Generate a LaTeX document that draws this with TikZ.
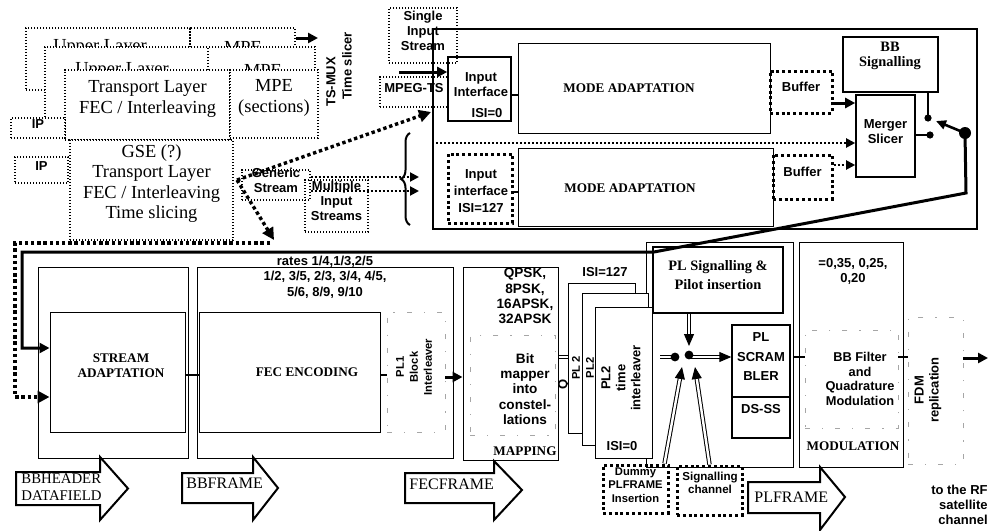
\documentclass[tikz,border=0pt]{standalone}
\usepackage{fontspec}
\setmainfont{Liberation Serif}
\setsansfont{Liberation Sans}
\usepackage{tikz}
\usetikzlibrary{arrows.meta,fit,calc,decorations.pathreplacing}

\tikzset{
  box/.style={draw, line width=0.5pt, inner sep=0pt},
  thinbox/.style={draw, line width=0.35pt, inner sep=0pt},
  dotbox/.style={draw, line width=0.7pt, dash pattern=on 0.7pt off 0.8pt, inner sep=0pt},
  heavybox/.style={draw, line width=1.5pt, dash pattern=on 1.5pt off 1.4pt, inner sep=0pt},
  faintbox/.style={draw, gray!70, line width=0.4pt, dash pattern=on 2.5pt off 6pt on 0.6pt off 6pt, inner sep=0pt},
  sf/.style={font=\sffamily\bfseries\fontsize{6.5}{7.5}\selectfont, align=center, inner sep=0pt},
  sfs/.style={font=\sffamily\bfseries\fontsize{5.6}{6.6}\selectfont, align=center, inner sep=0pt},
  rmb/.style={font=\bfseries\fontsize{6.6}{7.6}\selectfont, align=center, inner sep=0pt},
  rmbig/.style={font=\fontsize{9.2}{10.2}\selectfont, align=center, inner sep=0pt},
  framelab/.style={font=\fontsize{8}{8.6}\selectfont, align=left, inner sep=0pt, anchor=west},
  hollow/.style={draw, line width=1pt, fill=white, line join=miter},
  flow/.style={line width=1.5pt, -{Triangle[length=5pt,width=5pt]}},
  dflow/.style={line width=1.7pt, dash pattern=on 1.7pt off 1.4pt, -{Triangle[length=6pt,width=6pt]}},
  mflow/.style={line width=1pt, dash pattern=on 1pt off 1pt, -{Triangle[length=4.5pt,width=4.5pt]}},
  dbl/.style={double, double distance=1.2pt, line width=0.5pt},
  dbltip/.style={dbl, -{Triangle[length=6pt,width=5pt]}},
}

\begin{document}
\begin{tikzpicture}[x=0.5pt, y=-0.5pt]
    \fill[white] (0,0) rectangle (990,530);
    \useasboundingbox (0,0) rectangle (990,530);

    % upper layer stack (back to front)
    \node[dotbox, fit={(26,28) (190,90)}] (ul1a) {};
    \node[dotbox, fit={(190,28) (295,90)}] (ul1b) {};
    \node[rmbig] (ul1atxt) at (100,47) {Upper Layer};
    \node[rmbig] (ul1btxt) at (243,47) {MPE};
    \coordinate (tsmux) at (318,38);
    \draw[flow] (ul1b.east |- tsmux) -- (tsmux);

    \node[dotbox, fill=white, fit={(45,47) (208,120)}] (ul2a) {};
    \node[dotbox, fill=white, fit={(208,47) (315,120)}] (ul2b) {};
    \node[rmbig] (ul2atxt) at (122,70) {Upper Layer};
    \node[rmbig] (ul2btxt) at (263,70) {MPE};

    \node[dotbox, fill=white, rmbig, fit={(65,70) (230,140)}] (tl) {Transport Layer\\FEC / Interleaving};
    \node[dotbox, fill=white, rmbig, fit={(230,70) (318,138)}] (mpe) {MPE\\(sections)};
    \node[dotbox, fill=white, sf, fit={(11,118) (65,138)}] (ipa) {IP};

    \node[sf, rotate=90] (tsmuxlab) at (331,82) {TS-MUX};
    \node[sf, rotate=90] (slicerlab) at (347,66) {Time slicer};

    % GSE and generic streams
    \node[dotbox, sf, fit={(15,157) (68,183)}] (ipb) {IP};
    \node[dotbox, fill=white, rmbig, fit={(70,140) (233,240)}] (gse) {GSE (?)\\Transport Layer\\FEC / Interleaving\\Time slicing};
    \node[dotbox, sf, fit={(242,170) (310,200)}] (gs) {Generic\\Stream};
    \node[dotbox, sf, fit={(305,180) (368,232)}] (mis) {Multiple\\Input\\Streams};

    \coordinate (gseout) at (237,180);
    \coordinate (ii0in) at (431,112);
    \coordinate (gsedown) at (274,240);
    \coordinate (gseloop) at (270,243);
    \coordinate (dotcorner) at (15,397);
    \draw[dflow] (gseout) -- (ii0in);
    \draw[dflow] (gseout) -- (gsedown);

    \coordinate (bra) at (419,177);
    \coordinate (brb) at (419,191);
    \draw[mflow] (gs.east |- bra) -- (bra);
    \draw[mflow] (gs.east |- brb) -- (brb);
    \coordinate (bracetop) at (410,133);
    \coordinate (bracebot) at (410,225);
    \draw[line width=1pt, decorate, decoration={brace, amplitude=4.5pt}] (bracebot) -- (bracetop);

    % mode adaptation block
    \node[dotbox, sf, fit={(389,8) (457,63)}] (sis) {Single\\Input\\Stream};
    \node[dotbox, fit={(380,77) (448,107)}] (mpegts) {};
    \node[sf] (mpegtstxt) at (414,88) {MPEG-TS};
    \node[draw, line width=0.7pt, inner sep=0pt, fit={(433,29) (977,229)}] (sys) {};

    \node[box, line width=0.8pt, fit={(448,57) (511,121)}] (ii0) {};
    \node[sf] (ii0txt) at (481,85) {Input\\Interface};
    \node[sf] (isi0) at (487,113) {ISI=0};
    \node[box, fit={(518,43) (770,133)}] (ma1) {};
    \node[rmb] (ma1txt) at (629,88) {MODE ADAPTATION};
    \node[heavybox, sf, fit={(770,71) (832,113)}] (buf1) {Buffer};

    \node[heavybox, fit={(448,154) (512,223)}] (ii127) {};
    \node[sf, font=\sffamily\bfseries\fontsize{6.5}{8.4}\selectfont] (ii127txt) at (481,191) {Input\\interface\\ISI=127};
    \node[box, fit={(518,148) (773,226)}] (ma2) {};
    \node[rmb] (ma2txt) at (630,188) {MODE ADAPTATION};
    \node[heavybox, sf, fit={(773,155) (832,199)}] (buf2) {Buffer};

    \node[box, line width=0.8pt, sf, fit={(856,95) (915,177)}] (merger) {Merger\\Slicer};
    \node[box, line width=0.7pt, fit={(843,37) (938,92)}] (bbsig) {};
    \node[rmb, font=\bfseries\fontsize{7.2}{7.8}\selectfont] (bbsigtxt) at (890,56) {BB\\Signalling};

    \coordinate (tsin) at (399,72);
    \draw[flow] (tsin) -- (tsin -| ii0.west);
    \coordinate (y95) at (0,95);
    \coordinate (y192) at (0,192);
    \draw[line width=1pt] (ii0.east |- y95) -- (ma1.west |- y95);
    \draw[line width=1pt] (ii127.east |- y192) -- (ma2.west |- y192);
    \coordinate (y103) at (0,103);
    \coordinate (y143) at (0,143);
    \coordinate (y165) at (0,165);
    \draw[flow] (buf1.east |- y103) -- (merger.west |- y103);
    \draw[mflow] (sys.west |- y143) -- (merger.west |- y143);
    \draw[mflow] (buf2.east |- y165) -- (merger.west |- y165);

    % switch
    \coordinate (swa) at (928,118);
    \coordinate (swb) at (930,135);
    \coordinate (swc) at (965,133);
    \coordinate (swtip) at (936,121);
    \draw[line width=1pt] (bbsig.south -| swa) -- (swa);
    \draw[line width=1pt] (merger.east |- swb) -- (swb);
    \fill (swa) circle (1.8pt);
    \fill (swb) circle (1.8pt);
    \fill (swc) circle (3pt);
    \draw[line width=1.3pt, -{Triangle[length=5pt,width=4.5pt]}] (swc) -- (swtip);

    % bottom chain
    \node[box, fit={(38,267) (188,458)}] (saout) {};
    \node[box, fit={(50,312) (185,432)}] (sain) {};
    \node[rmb] (saintxt) at (121,366) {STREAM\\ADAPTATION};
    \node[box, fit={(197,267) (453,458)}] (fecout) {};
    \node[sf, font=\sffamily\bfseries\fontsize{6.5}{7.8}\selectfont] (rates) at (325,277) {rates 1/4,1/3,2/5\\1/2, 3/5, 2/3, 3/4, 4/5,\\5/6, 8/9, 9/10};
    \node[box, fit={(199,312) (380,432)}] (fecin) {};
    \node[rmb] (fecintxt) at (307,372) {FEC ENCODING};
    \node[faintbox, fit={(387,312) (445,432)}] (pl1) {};
    \node[sfs, rotate=90, font=\sffamily\bfseries\fontsize{5.6}{7}\selectfont] (pl1txt) at (414,367) {PL1\\Block\\Interleaver};

    \node[box, fit={(463,267) (558,460)}] (map) {};
    \node[faintbox, fit={(470,335) (555,435)}] (mapin) {};
    \node[sf, font=\sffamily\bfseries\fontsize{6.8}{7.6}\selectfont] (maplist) at (525,296) {QPSK,\\8PSK,\\16APSK,\\32APSK};
    \node[sf, font=\sffamily\bfseries\fontsize{6.8}{7.6}\selectfont] (maptxt) at (525,389) {Bit\\mapper\\into\\constel-\\lations};
    \node[rmb] (maplab) at (525,451) {MAPPING};

    \coordinate (y375) at (0,375);
    \coordinate (y377) at (0,377);
    \draw[line width=1pt] (sain.east |- y375) -- (fecin.west |- y375);
    \draw[line width=0.8pt] (fecin.east |- y375) -- (pl1.west |- y375);
    \draw[flow] (pl1.east |- y377) -- (map.west |- y377);

    % PL framing
    \node[box, fit={(646,242) (793,467)}] (plbox) {};
    \node[box, line width=0.8pt, fit={(653,247) (783,313)}] (plsig) {};
    \node[rmb, font=\bfseries\fontsize{7.2}{9.5}\selectfont] (plsigtxt) at (718,275) {PL Signalling \&\\Pilot insertion};

    \coordinate (iq) at (568,357);
    \draw[dbl] (map.east |- iq) -- (iq);
    \node[sf, rotate=90] (qlab) at (564,384) {Q};

    \node[thinbox, fill=white, fit={(568,283) (635,433)}] (pl2a) {};
    \node[sfs, rotate=90] (pl2atxt) at (576,368) {PL 2};
    \node[thinbox, fill=white, fit={(582,293) (648,445)}] (pl2b) {};
    \node[sfs, rotate=90] (pl2btxt) at (590,368) {PL2};
    \node[thinbox, fill=white, fit={(595,307) (652,458)}] (pl2c) {};
    \node[sf, rotate=90] (pl2ctxt) at (621,378) {PL2\\time\\interleaver};
    \node[sf] (isi127) at (605,272) {ISI=127};
    \node[sf] (isi0b) at (622,446) {ISI=0};

    \node[box, line width=0.7pt, sf, font=\sffamily\bfseries\fontsize{6.5}{9.8}\selectfont, fit={(732,325) (790,397)}] (plscr) {PL\\SCRAM\\BLER};
    \node[box, line width=0.7pt, fit={(732,397) (790,438)}] (dsss) {};
    \node[sf] (dssstxt) at (761,409) {DS-SS};

    \node[heavybox, sfs, fit={(603,465) (668,513)}] (dummy) {Dummy\\PLFRAME\\Insertion};
    \node[heavybox, fit={(677,466) (742,515)}] (sigch) {};
    \node[sfs, font=\sffamily\bfseries\fontsize{5.8}{6.4}\selectfont] (sigchtxt) at (710,483) {Signalling\\channel};

    % junction
    \coordinate (jin) at (660,357);
    \coordinate (jl) at (675,357);
    \coordinate (jr) at (689,355);
    \coordinate (jtop) at (689,346);
    \coordinate (jbl) at (682,367);
    \coordinate (jbr) at (695,367);
    \draw[dbl] (jin) -- (jl);
    \draw[dbltip] (plsig.south -| jr) -- (jtop);
    \draw[dbltip] (jr |- jl) -- (plscr.west |- jl);
    \draw[dbltip] ($(dummy.north east)+(-5,0)$) -- (jbl);
    \draw[dbltip] (sigch.north) -- (jbr);
    \fill (jl) circle (2.2pt);
    \fill (jr) circle (2.2pt);

    % modulation
    \node[box, fit={(799,242) (903,467)}] (mod) {};
    \node[sf] (rolloff) at (853,271) {=0,35, 0,25,\\0,20};
    \node[faintbox, fit={(805,330) (898,428)}] (modin) {};
    \node[sf, font=\sffamily\bfseries\fontsize{6.4}{7.3}\selectfont] (modintxt) at (860,379) {BB Filter\\and\\Quadrature\\Modulation};
    \node[rmb] (modlab) at (853,446) {MODULATION};
    \node[faintbox, fit={(908,317) (963,464)}] (fdm) {};
    \node[sf, rotate=90] (fdmtxt) at (928,390) {FDM\\replication};

    \coordinate (y357) at (0,357);
    \coordinate (rfout) at (988,358);
    \draw[line width=0.8pt] (plbox.east |- y357) -- (modin.west |- y357);
    \draw[line width=0.8pt] (modin.east |- y357) -- (fdm.west |- y357);
    \draw[flow] (fdm.east |- rfout) -- (rfout);
    \node[sf, align=right, anchor=east] (rftxt) at (988,505) {to the RF\\satellite\\channel};

    % feedback from switch and generic stream path
    \coordinate (swlow) at (966,193);
    \coordinate (plcorner) at (654,252);
    \coordinate (leftcorner) at (22,252);
    \coordinate (y348) at (0,348);
    \draw[flow, line join=miter] (swc) -- (swlow) -- (plcorner) -- (leftcorner) |- (sain.west |- y348);
    \draw[dflow] (gseloop) -| (dotcorner) -- (sain.west |- dotcorner);

    % frame arrows
    \draw[hollow] (16,472) -- (100,472) -- (100,457) -- (128,488.5) -- (100,520) -- (100,505) -- (16,505) -- cycle;
    \node[framelab, font=\fontsize{7.4}{8.6}\selectfont] (bbhtxt) at (21,487) {BBHEADER\\DATAFIELD};
    \draw[hollow] (182,473) -- (253,473) -- (253,457) -- (278,488) -- (253,520) -- (253,503) -- (182,503) -- cycle;
    \node[framelab] (bbftxt) at (186,483) {BBFRAME};
    \draw[hollow] (405,473) -- (494,473) -- (494,461) -- (522,490) -- (494,520) -- (494,503) -- (405,503) -- cycle;
    \node[framelab] (fecftxt) at (409,484) {FECFRAME};
    \draw[hollow] (748,482) -- (820,482) -- (820,467) -- (845,497) -- (820,530) -- (820,513) -- (748,513) -- cycle;
    \node[framelab] (plftxt) at (754,497) {PLFRAME};
\end{tikzpicture}
\end{document}
